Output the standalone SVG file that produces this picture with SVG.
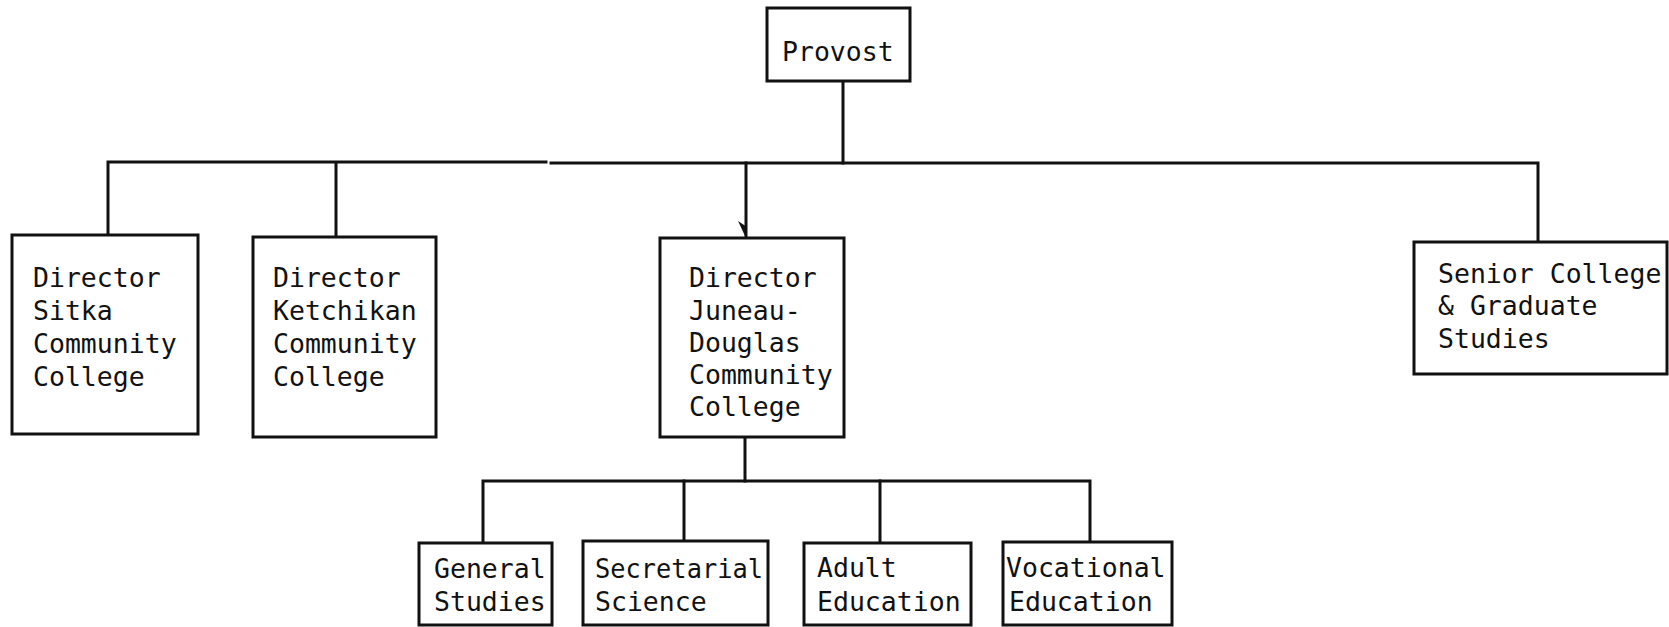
<svg xmlns="http://www.w3.org/2000/svg" width="1669" height="627" viewBox="0 0 1669 627">
<style>
.box{fill:#fff;stroke:#111;stroke-width:3}
.ln{fill:none;stroke:#111;stroke-width:3;stroke-linecap:square}
text{font-family:"DejaVu Sans Mono","Liberation Mono",monospace;font-size:26.5px;fill:#111}
</style>
<rect width="1669" height="627" fill="#fff"/>
<g id="connectors">
<path class="ln" d="M843,81 V163"/>
<path class="ln" d="M108,234 V162 H546"/>
<path class="ln" d="M551,163 H1538 V242"/>
<path class="ln" d="M336,163 V237"/>
<path class="ln" d="M746,163 V236"/>
<path d="M738,221 L746,238 L747,227 Z" fill="#111"/>
<path class="ln" d="M745,437 V481"/>
<path class="ln" d="M483,543 V481 H1090 V542"/>
<path class="ln" d="M684,481 V541"/>
<path class="ln" d="M880,481 V543"/>
</g>
<g id="provost">
<rect class="box" x="767" y="8" width="143" height="73"/>
<text x="782" y="61">Provost</text>
</g>
<g id="sitka">
<rect class="box" x="12" y="235" width="186" height="199"/>
<text x="33" y="287">Director</text>
<text x="33" y="320">Sitka</text>
<text x="33" y="353">Community</text>
<text x="33" y="386">College</text>
</g>
<g id="ketchikan">
<rect class="box" x="253" y="237" width="183" height="200"/>
<text x="273" y="287">Director</text>
<text x="273" y="320">Ketchikan</text>
<text x="273" y="353">Community</text>
<text x="273" y="386">College</text>
</g>
<g id="juneau">
<rect class="box" x="660" y="238" width="184" height="199"/>
<text x="689" y="287">Director</text>
<text x="689" y="320">Juneau-</text>
<text x="689" y="352">Douglas</text>
<text x="689" y="384">Community</text>
<text x="689" y="416">College</text>
</g>
<g id="senior">
<rect class="box" x="1414" y="242" width="253" height="132"/>
<text x="1438" y="283">Senior College</text>
<text x="1438" y="315">&amp; Graduate</text>
<text x="1438" y="348">Studies</text>
</g>
<g id="general">
<rect class="box" x="419" y="543" width="133" height="82"/>
<text x="434" y="578">General</text>
<text x="434" y="611">Studies</text>
</g>
<g id="secretarial">
<rect class="box" x="583" y="541" width="185" height="84"/>
<text x="595" y="578" textLength="168" lengthAdjust="spacingAndGlyphs">Secretarial</text>
<text x="595" y="611">Science</text>
</g>
<g id="adult">
<rect class="box" x="804" y="543" width="167" height="82"/>
<text x="817" y="577">Adult</text>
<text x="817" y="611">Education</text>
</g>
<g id="vocational">
<rect class="box" x="1003" y="542" width="169" height="83"/>
<text x="1006" y="577">Vocational</text>
<text x="1009" y="611">Education</text>
</g>
</svg>
